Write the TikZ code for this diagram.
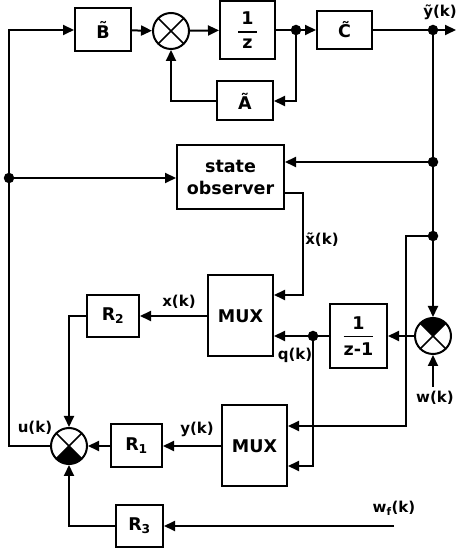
\documentclass[tikz,border=0pt]{standalone}
\usepackage{fontspec}
\setmainfont{DejaVu Sans}
\usepackage{amsmath}
\usetikzlibrary{arrows.meta, positioning, calc}
\newcommand{\frc}[2]{$\genfrac{}{}{1.8pt}{0}{\text{#1}}{\text{#2}}$}
\tikzset{
	blk/.style={draw, line width=2pt, inner sep=2pt, align=center, font=\fontsize{17.5}{22}\selectfont\bfseries},
	sumnode/.style 2 args={circle, draw, line width=2pt, minimum size=36pt, inner sep=0pt,
		path picture={
			\fill[#1] (path picture bounding box.center) -- (path picture bounding box.north west) -- (path picture bounding box.north east) -- cycle;
			\fill[#2] (path picture bounding box.center) -- (path picture bounding box.south west) -- (path picture bounding box.south east) -- cycle;
			\draw[line width=1.6pt] (path picture bounding box.north west) -- (path picture bounding box.south east)
				(path picture bounding box.north east) -- (path picture bounding box.south west);
		}},
	dot/.style={circle, fill, inner sep=0pt, minimum size=10.5pt},
	lbl/.style={font=\fontsize{15}{18}\selectfont\bfseries},
}

\begin{document}
\begin{tikzpicture}[
		x=1pt, y=1pt,
		wire/.style={line width=2pt},
		conn/.style={wire, -{Triangle[length=11pt, width=10pt]}}
	]
	\useasboundingbox (0,0) rectangle (456,548);

	% Plant model
	\node[blk, minimum width=56pt, minimum height=43pt] (B) at (103,518) {B̃};
	\node[sumnode={white}{white}] (s1) at (171,517) {};
	\node[blk, minimum width=55pt, minimum height=58pt] (invz) at (247.5,518) {\frc{1}{\makebox[19pt]{z}}};
	\node[dot] (dA) at (296,518) {};
	\node[blk, minimum width=55pt, minimum height=38pt] (C) at (344.5,518) {C̃};
	\node[dot] (dY) at (433,518) {};
	\coordinate (yout) at (456,518);
	\node[lbl] (ylab) at (440,536) {ỹ(k)};
	\node[blk, minimum width=56pt, minimum height=39pt] (A) at (245,447) {Ã};

	\draw[conn] (B) -- (s1);
	\draw[conn] (s1) -- (invz);
	\draw[wire] (invz) -- (dA);
	\draw[conn] (dA) -- (C);
	\draw[conn] (dA) |- (A.east);
	\draw[conn] (A.west) -| (s1.south);
	\draw[wire] (C) -- (dY);
	\draw[conn] (dY) -- (yout);

	% Observer
	\node[blk, minimum width=107pt, minimum height=64pt] (obs) at (230.5,371) {state\\observer};
	\node[dot] (dL) at (9,370) {};
	\node[dot] (dR1) at (433,386) {};
	\node[dot] (dR2) at (433,312) {};
	\node[lbl] (xhlab) at (322,308) {x̃(k)};

	\draw[conn] (dL) -- (dL -| obs.west);
	\draw[conn] (dR1) -- (dR1 -| obs.east);

	% Integrator and multiplexers
	\node[blk, minimum width=65pt, minimum height=81pt] (mux1) at (240.5,232) {MUX};
	\node[blk, minimum width=57pt, minimum height=64pt] (invz1) at (358.5,212) {\frc{1}{z-1}};
	\node[sumnode={black}{white}] (s2) at (433,212) {};
	\node[dot] (dQ) at (313,212) {};
	\node[lbl] (qlab) at (295,193) {q(k)};
	\coordinate (win) at (433,161);
	\node[lbl] (wlab) at (435,150) {w(k)};
	\node[blk, minimum width=65pt, minimum height=81pt] (mux2) at (254.5,102) {MUX};

	\draw[conn] (dY) -- (s2.north);
	\draw[conn] ([yshift=-16pt]obs.east) -- ++(18,0) |- ([yshift=21pt]mux1.east);
	\draw[conn] (dR2) -- ++(-27,0) |- ([yshift=20pt]mux2.east);
	\draw[conn] (s2) -- (invz1);
	\draw[wire] (invz1) -- (dQ);
	\draw[conn] (dQ) -- (dQ -| mux1.east);
	\draw[conn] (dQ) |- ([yshift=-20pt]mux2.east);
	\draw[conn] (win) -- (s2.south);

	% Controller
	\node[blk, minimum width=52pt, minimum height=42pt] (R2) at (113,232) {R\textsubscript{2}};
	\node[lbl] (xlab) at (179,246) {x(k)};
	\node[sumnode={white}{black}] (s3) at (69,102) {};
	\node[lbl] (ulab) at (35,120) {u(k)};
	\node[blk, minimum width=51pt, minimum height=43pt] (R1) at (136.5,102) {R\textsubscript{1}};
	\node[lbl] (ylab2) at (197,119) {y(k)};
	\node[blk, minimum width=47pt, minimum height=42pt] (R3) at (139.5,22) {R\textsubscript{3}};
	\coordinate (wf) at (394,22);
	\node[lbl] (wflab) at (394,40) {w\textsubscript{f}(k)};

	\draw[conn] (mux1) -- (R2);
	\draw[conn] (R2.west) -| (s3.north);
	\draw[conn] (mux2) -- (R1);
	\draw[conn] (R1) -- (s3);
	\draw[conn] (wf) -- (R3);
	\draw[conn] (R3.west) -| (s3.south);
	\draw[conn] (s3.west) -- (s3.west -| dL) -- (dL |- B) -- (B.west);
\end{tikzpicture}
\end{document}
